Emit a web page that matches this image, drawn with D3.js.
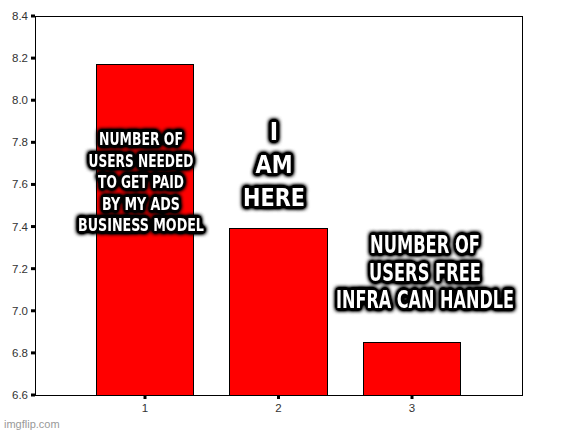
<!DOCTYPE html>
<html lang="en">
<head>
<meta charset="UTF-8">
<title>Bar chart meme</title>
<script src="https://d3js.org/d3.v7.min.js"></script>
<style>
    body { margin: 0; background: #fff; }
    svg { display: block; }
    .tick-label { font-family: 'Liberation Sans', Arial, sans-serif; font-size: 11.5px; fill: #333; }
    .meme {
        font-family: Impact, 'Liberation Sans Narrow', 'DejaVu Sans Condensed', sans-serif;
        font-weight: bold;
        fill: #fff;
        stroke: #000;
        stroke-width: 4.5px;
        stroke-linejoin: round;
        paint-order: stroke;
        text-anchor: middle;
    }
    .watermark { font-family: 'Liberation Sans', Arial, sans-serif; font-size: 11px; fill: #999; }
</style>
</head>
<body>
<svg width="576" height="433">
    <defs>
        <filter id="glow" filterUnits="userSpaceOnUse" x="0" y="0" width="576" height="433">
            <feGaussianBlur in="SourceAlpha" stdDeviation="2.2" result="b"/>
            <feComponentTransfer in="b" result="dark"><feFuncA type="linear" slope="2.5"/></feComponentTransfer>
            <feMerge><feMergeNode in="dark"/><feMergeNode in="SourceGraphic"/></feMerge>
        </filter>
    </defs>
</svg>
<script>
    const categories = ["1", "2", "3"];
    const values = [8.17, 7.39, 6.85];
    const yTicks = [6.6, 6.8, 7.0, 7.2, 7.4, 7.6, 7.8, 8.0, 8.2, 8.4];

    const captions = [
        {lines: ["NUMBER OF", "USERS NEEDED", "TO GET PAID", "BY MY ADS", "BUSINESS MODEL"], x: 141, y: 139, size: 18, lh: 21.5,
         widths: [84, 105, 86, 78, 126]},
        {lines: ["I", "AM", "HERE"], x: 274, y: 131, size: 25, lh: 33, widths: [10, 37, 62]},
        {lines: ["NUMBER OF", "USERS FREE", "INFRA CAN HANDLE"], x: 425, y: 244, size: 25, lh: 27.5, widths: [110, 112, 178]}
    ];

    const svg = d3.select("svg");
    const plot = {left: 35, right: 522, top: 16, bottom: 395};

    const x = d3.scaleBand(categories, [plot.left, plot.right])
        .paddingInner(0.266)
        .paddingOuter(0.457);
    const y = d3.scaleLinear([6.6, 8.4], [plot.bottom, plot.top]);

    // frame
    svg.append("rect")
        .attr("x", plot.left).attr("y", plot.top)
        .attr("width", plot.right - plot.left).attr("height", plot.bottom - plot.top)
        .attr("fill", "none").attr("stroke", "#000").attr("stroke-width", 1)
        .attr("shape-rendering", "crispEdges");

    // bars
    svg.append("g").selectAll("rect")
        .data(values)
        .join("rect")
        .attr("x", (d, i) => x(categories[i]))
        .attr("y", d => y(d))
        .attr("width", x.bandwidth())
        .attr("height", d => y(6.6) - y(d))
        .attr("fill", "#ff0000")
        .attr("stroke", "#000")
        .attr("stroke-width", 1)
        .attr("shape-rendering", "crispEdges");

    // y axis
    const yAxis = svg.append("g");
    yAxis.selectAll("rect")
        .data(yTicks)
        .join("rect")
        .attr("x", plot.left - 4).attr("y", d => y(d) - 1.5)
        .attr("width", 4).attr("height", 3).attr("fill", "#000");
    yAxis.selectAll("text")
        .data(yTicks)
        .join("text")
        .attr("class", "tick-label")
        .attr("x", plot.left - 7)
        .attr("y", d => y(d))
        .attr("dy", "0.35em")
        .attr("text-anchor", "end")
        .text(d => d.toFixed(1));

    // x axis
    const xAxis = svg.append("g");
    xAxis.selectAll("rect")
        .data(categories)
        .join("rect")
        .attr("x", d => x(d) + x.bandwidth() / 2 - 1.5).attr("y", plot.bottom)
        .attr("width", 3).attr("height", 4).attr("fill", "#000");
    xAxis.selectAll("text")
        .data(categories)
        .join("text")
        .attr("class", "tick-label")
        .attr("x", d => x(d) + x.bandwidth() / 2)
        .attr("y", plot.bottom + 13)
        .attr("dy", "0.35em")
        .attr("text-anchor", "middle")
        .text(d => d);

    // meme captions: each line squeezed horizontally to look like Impact
    const memeLayer = svg.append("g").attr("filter", "url(#glow)");
    captions.forEach(c => {
        c.lines.forEach((line, i) => {
            const t = memeLayer.append("text")
                .attr("class", "meme")
                .style("font-size", c.size + "px")
                .attr("dy", "0.36em")
                .text(line);
            const natural = t.node().getComputedTextLength();
            const sx = Math.min(1, c.widths[i] / natural);
            t.attr("transform", `translate(${c.x},${c.y + i * c.lh}) scale(${sx},1)`);
        });
    });

    svg.append("text")
        .attr("class", "watermark")
        .attr("x", 4).attr("y", 424).attr("dy", "0.35em")
        .text("imgflip.com");
</script>
</body>
</html>
